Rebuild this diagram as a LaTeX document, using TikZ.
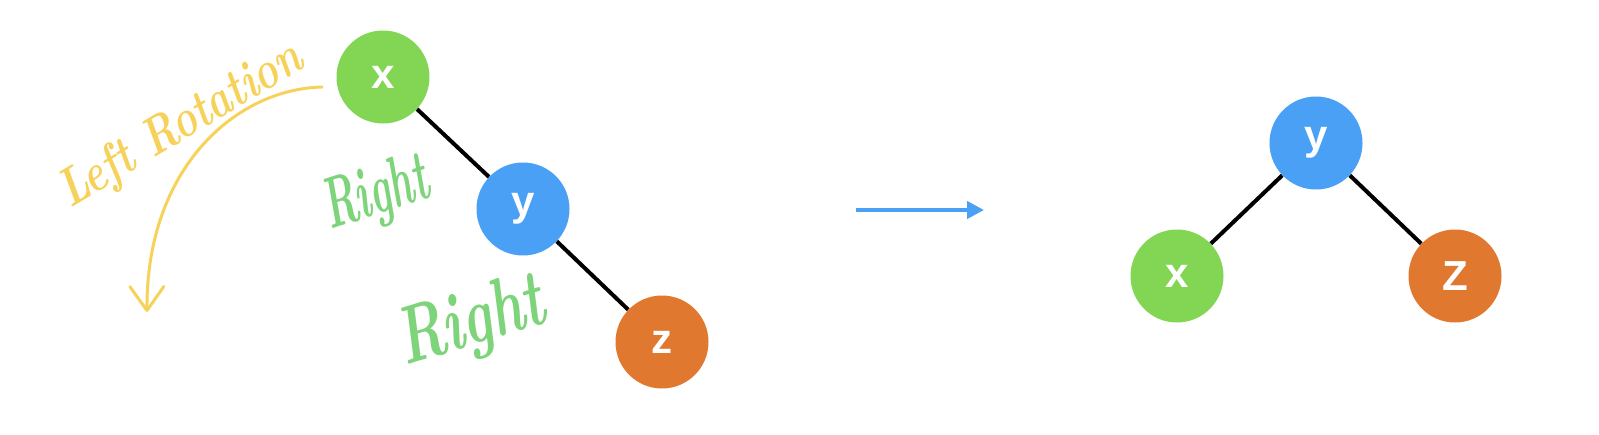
\documentclass[tikz,border=0pt]{standalone}
\usepackage{fontspec}
\usepackage{graphicx}
\newfontfamily\nodefont{Liberation Sans}
\usetikzlibrary{arrows.meta,backgrounds}
\definecolor{ngreen}{HTML}{82D654}
\definecolor{nblue}{HTML}{4AA0F5}
\definecolor{norange}{HTML}{E07830}
\definecolor{hgreen}{HTML}{7DD47A}
\definecolor{hyellow}{HTML}{F7D25A}
\tikzset{
  treenode/.style={circle, minimum size=93pt, inner sep=0pt, text=white,
    font=\nodefont\bfseries\fontsize{42}{42}\selectfont},
  gnode/.style={treenode, fill=ngreen},
  bnode/.style={treenode, fill=nblue},
  onode/.style={treenode, fill=norange},
  edge/.style={line width=4pt, black},
  hand/.style={font=\bfseries\itshape\fontsize{#1}{#1}\selectfont, inner sep=0pt, anchor=base west},
  yhand/.style={hand=41, text=hyellow},
  ghand/.style={text=hgreen},
}
\begin{document}
\begin{tikzpicture}[x=1pt,y=-1pt]
\path[use as bounding box] (0,0) rectangle (1599,434);
% left tree
\node[gnode] (lx) at (383,77) {x};
\node[bnode] (ly) at (523,209) {y};
\node[onode] (lz) at (662,342) {z};
% right tree
\node[bnode] (ry) at (1316,143) {y};
\node[gnode] (rx) at (1177,276) {x};
\node[onode] (rz) at (1455,276) {Z};
\begin{scope}[on background layer]
\draw[edge] (lx) -- (ly);
\draw[edge] (ly) -- (lz);
\draw[edge] (ry) -- (rx);
\draw[edge] (ry) -- (rz);
\end{scope}
% arrow between trees
\coordinate (as) at (856,210);
\coordinate (ae) at (984,210);
\draw[nblue, line width=4pt, -{Triangle[length=17pt,width=17pt]}] (as) -- (ae);
% handwritten labels
\node[yhand, rotate=31] (lr) at (70,209) {\scalebox{1}[1.3]{Left Rotation}};
\node[hand=40, ghand, rotate=18] (r1) at (330,230) {\scalebox{1}[1.8]{Right}};
\node[hand=56, ghand, rotate=17] (r2) at (405,366) {\scalebox{1}[1.45]{Right}};
% curved rotation arrow
\coordinate (cs) at (322,87);
\coordinate (ce) at (147,312);
\draw[hyellow, line width=3pt, line cap=round,
  -{Straight Barb[length=24pt,width=34pt,round]}]
  (cs) .. controls (236,89) and (146,168) .. (ce);
\end{tikzpicture}
\end{document}
